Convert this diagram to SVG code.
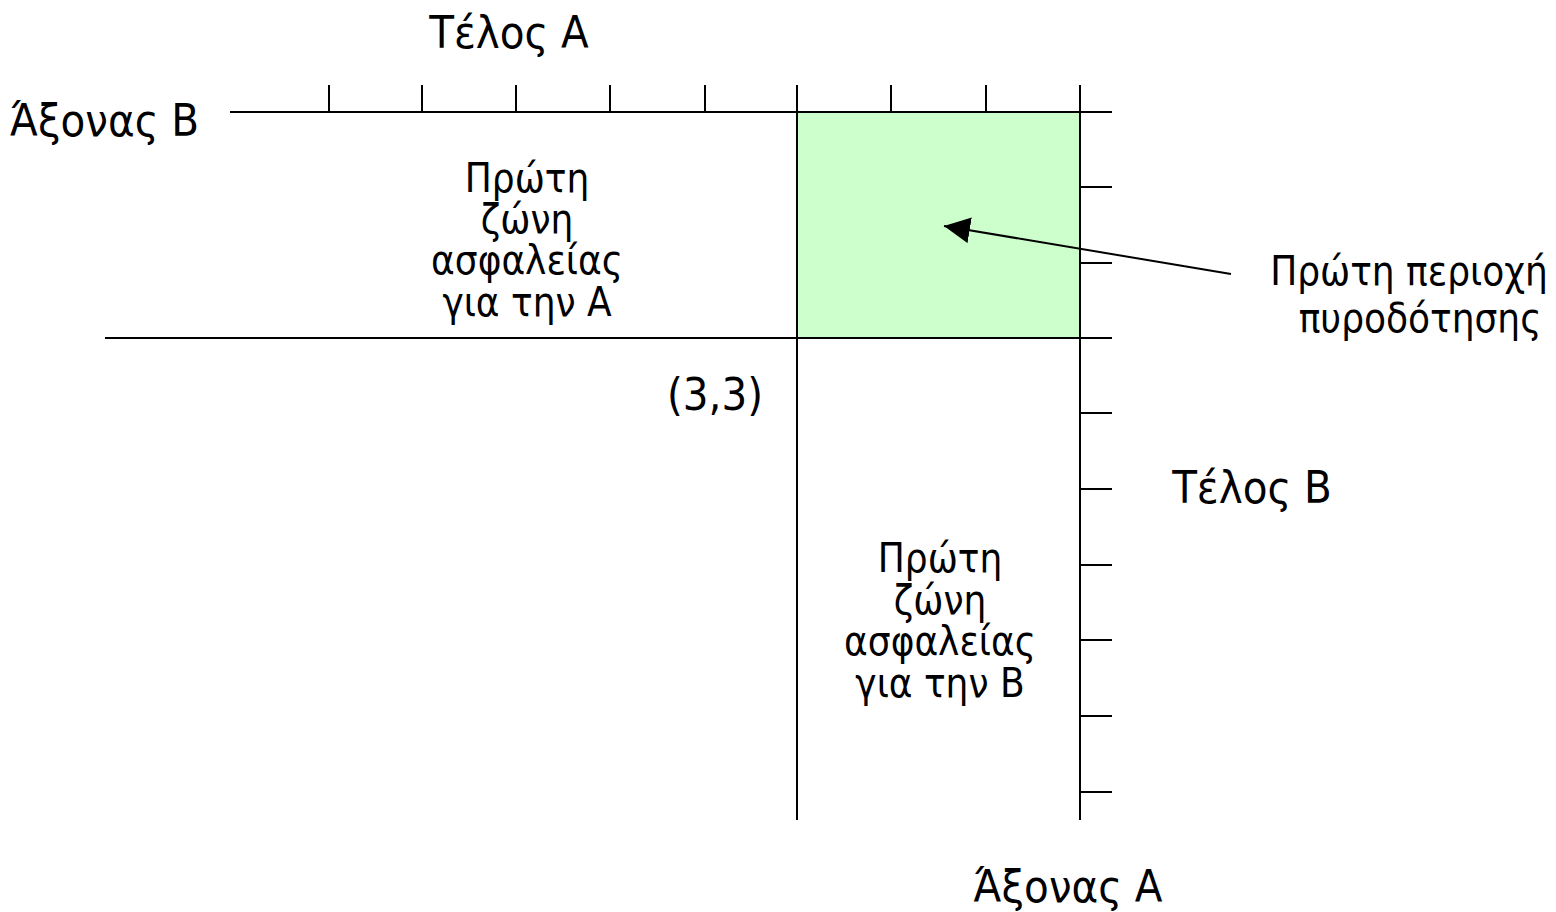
<svg xmlns="http://www.w3.org/2000/svg" width="1556" height="912" viewBox="0 0 1556 912">
<style>
.ln{stroke:#000;stroke-width:2;fill:none}
.t{font-family:"DejaVu Sans Condensed","DejaVu Sans",Verdana,sans-serif;fill:#000}
.big{font-size:45px}
.mid{font-size:40px}
</style>
<defs>
<marker id="ah" markerWidth="28" markerHeight="28" refX="26" refY="13" orient="auto" markerUnits="userSpaceOnUse">
<path d="M0,0 L26,13 L0,26 Z" fill="#000"/>
</marker>
</defs>
<rect width="1556" height="912" fill="#fff"/>
<g id="firing-region">
<rect x="797" y="112" width="283" height="226" fill="#ccffcc" stroke="#000" stroke-width="2"/>
</g>
<g id="axes">
<line class="ln" x1="230" y1="112" x2="1112" y2="112"/>
<line class="ln" x1="105" y1="338" x2="1112" y2="338"/>
<line class="ln" x1="797" y1="85" x2="797" y2="820"/>
<line class="ln" x1="1080" y1="85" x2="1080" y2="820"/>
</g>
<g id="ticks-top">
<line class="ln" x1="329" y1="85" x2="329" y2="112"/>
<line class="ln" x1="422" y1="85" x2="422" y2="112"/>
<line class="ln" x1="516" y1="85" x2="516" y2="112"/>
<line class="ln" x1="610" y1="85" x2="610" y2="112"/>
<line class="ln" x1="705" y1="85" x2="705" y2="112"/>
<line class="ln" x1="891" y1="85" x2="891" y2="112"/>
<line class="ln" x1="986" y1="85" x2="986" y2="112"/>
</g>
<g id="ticks-right">
<line class="ln" x1="1080" y1="187" x2="1112" y2="187"/>
<line class="ln" x1="1080" y1="263" x2="1112" y2="263"/>
<line class="ln" x1="1080" y1="413" x2="1112" y2="413"/>
<line class="ln" x1="1080" y1="489" x2="1112" y2="489"/>
<line class="ln" x1="1080" y1="565" x2="1112" y2="565"/>
<line class="ln" x1="1080" y1="640" x2="1112" y2="640"/>
<line class="ln" x1="1080" y1="716" x2="1112" y2="716"/>
<line class="ln" x1="1080" y1="792" x2="1112" y2="792"/>
</g>
<g id="connectors">
<line class="ln" x1="1231" y1="274" x2="944" y2="226" marker-end="url(#ah)"/>
</g>
<g id="label-end-a"><text class="t big" x="509" y="48" text-anchor="middle">Τέλος Α</text></g>
<g id="label-axis-b"><text class="t big" x="10" y="136">Άξονας Β</text></g>
<g id="zone-a">
<text class="t mid" text-anchor="middle"><tspan x="527" y="192">Πρώτη</tspan><tspan x="527" y="233">ζώνη</tspan><tspan x="527" y="274">ασφαλείας</tspan><tspan x="527" y="316">για την Α</tspan></text>
</g>
<g id="label-33"><text class="t big" x="715" y="410" text-anchor="middle">(3,3)</text></g>
<g id="label-region">
<text class="t mid" text-anchor="middle"><tspan x="1409" y="285">Πρώτη περιοχή</tspan><tspan x="1420" y="332">πυροδότησης</tspan></text>
</g>
<g id="label-end-b"><text class="t big" x="1252" y="503" text-anchor="middle">Τέλος Β</text></g>
<g id="zone-b">
<text class="t mid" text-anchor="middle"><tspan x="940" y="572">Πρώτη</tspan><tspan x="940" y="614">ζώνη</tspan><tspan x="940" y="655">ασφαλείας</tspan><tspan x="940" y="697">για την Β</tspan></text>
</g>
<g id="label-axis-a"><text class="t big" x="1068" y="902" text-anchor="middle">Άξονας Α</text></g>
</svg>
